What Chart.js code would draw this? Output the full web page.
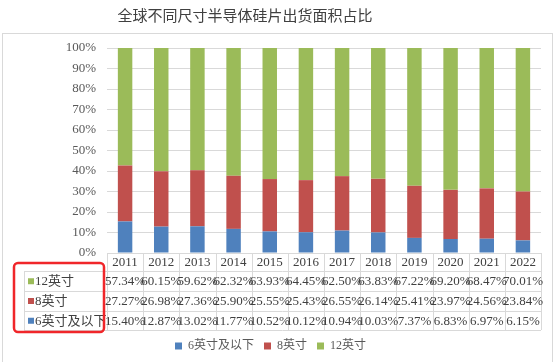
<!DOCTYPE html>
<html>
<head>
<meta charset="utf-8">
<script src="https://cdn.jsdelivr.net/npm/chart.js@4/dist/chart.umd.min.js"></script>
<style>
  html, body { margin: 0; padding: 0; background: #fff; }
  #wrap { width: 558px; height: 362px; }
</style>
</head>
<body>
<div id="wrap"><canvas id="chart" width="558" height="362"></canvas></div>
<script>
// Data
const years = ['2011', '2012', '2013', '2014', '2015', '2016', '2017', '2018', '2019', '2020', '2021', '2022'];
const small = [15.40, 12.87, 13.02, 11.77, 10.52, 10.12, 10.94, 10.03, 7.37, 6.83, 6.97, 6.15];
const eight = [27.27, 26.98, 27.36, 25.90, 25.55, 25.43, 26.55, 26.14, 25.41, 23.97, 24.56, 23.84];
const twelve = [57.34, 60.15, 59.62, 62.32, 63.93, 64.45, 62.50, 63.83, 67.22, 69.20, 68.47, 70.01];
const seriesNames = ['6英寸及以下', '8英寸', '12英寸'];
const chartTitle = '全球不同尺寸半导体硅片出货面积占比';

const colors = ['#4F81BD', '#C0504D', '#9BBB59'];
const serif = '"Liberation Serif", "Times New Roman", "Noto Sans CJK SC", serif';
const PLOT_BOTTOM = 253;

// Draws title, data table, red highlight box and outer frame
const tablePlugin = {
  id: 'dataTable',
  afterDraw(chart) {
    const ctx = chart.ctx;
    const x = chart.scales.x;
    const area = chart.chartArea;
    const colW = (area.right - area.left) / years.length;
    const rows = [271, 290.5, 310.5, 330];
    const labelLeft = 24;

    ctx.save();

    // outer frame
    ctx.strokeStyle = '#d9d9d9';
    ctx.lineWidth = 1;
    ctx.strokeRect(2.5, 33.5, 550, 340);

    // title
    ctx.fillStyle = '#404040';
    ctx.font = '15px "Noto Sans CJK SC", sans-serif';
    ctx.textAlign = 'center';
    ctx.textBaseline = 'middle';
    ctx.fillText(chartTitle, 245, 15);

    // grid of the table
    ctx.strokeStyle = '#d9d9d9';
    ctx.beginPath();
    ctx.moveTo(area.left, Math.round(area.bottom) + 0.5);
    ctx.lineTo(area.right, Math.round(area.bottom) + 0.5);
    rows.forEach(r => {
      ctx.moveTo(labelLeft, Math.round(r) + 0.5);
      ctx.lineTo(area.right, Math.round(r) + 0.5);
    });
    for (let i = 0; i <= years.length; i++) {
      const cx = Math.round(area.left + i * colW) + 0.5;
      ctx.moveTo(cx, area.bottom);
      ctx.lineTo(cx, rows[3]);
    }
    ctx.moveTo(labelLeft + 0.5, rows[0]);
    ctx.lineTo(labelLeft + 0.5, rows[3]);
    ctx.stroke();

    // rows: 12英寸, 8英寸, 6英寸及以下
    const tableRows = [
      { name: seriesNames[2], color: colors[2], vals: twelve },
      { name: seriesNames[1], color: colors[1], vals: eight },
      { name: seriesNames[0], color: colors[0], vals: small }
    ];
    ctx.font = '13px ' + serif;
    tableRows.forEach((row, r) => {
      const cy = (rows[r] + rows[r + 1]) / 2 + 1;
      ctx.fillStyle = row.color;
      ctx.fillRect(28, cy - 3.5, 6, 6);
      ctx.fillStyle = '#404040';
      ctx.textAlign = 'left';
      ctx.fillText(row.name, 35, cy);
      ctx.textAlign = 'center';
      row.vals.forEach((v, i) => {
        ctx.fillText(v.toFixed(2) + '%', x.getPixelForValue(i), cy);
      });
    });

    // red highlight box
    ctx.strokeStyle = '#F0262A';
    ctx.lineWidth = 2.5;
    ctx.beginPath();
    ctx.roundRect(14, 263, 90, 69, 4);
    ctx.stroke();

    ctx.restore();
  }
};

new Chart(document.getElementById('chart'), {
  type: 'bar',
  data: {
    labels: years,
    datasets: [
      { label: seriesNames[0], data: small, backgroundColor: colors[0] },
      { label: seriesNames[1], data: eight, backgroundColor: colors[1] },
      { label: seriesNames[2], data: twelve, backgroundColor: colors[2] }
    ]
  },
  options: {
    responsive: false,
    animation: false,
    layout: { padding: { top: 48, left: 0, right: 17, bottom: 0 } },
    datasets: { bar: { barPercentage: 0.4, categoryPercentage: 1 } },
    plugins: {
      title: { display: false },
      tooltip: { enabled: false },
      legend: {
        position: 'bottom',
        labels: {
          boxWidth: 7,
          boxHeight: 7,
          padding: 10,
          color: '#595959',
          font: { family: serif, size: 12 }
        }
      }
    },
    scales: {
      x: {
        stacked: true,
        grid: { display: false, drawTicks: false },
        border: { display: false },
        ticks: { color: '#404040', padding: 2, font: { family: serif, size: 13 } },
        afterFit(s) {
          const lg = s.chart.legend ? s.chart.legend.height : 34;
          s.height = 362 - PLOT_BOTTOM - lg;
        }
      },
      y: {
        stacked: true,
        min: 0,
        max: 100,
        ticks: {
          stepSize: 10,
          padding: 11,
          color: '#595959',
          font: { family: serif, size: 13 },
          callback: v => v + '%'
        },
        grid: { color: '#d9d9d9', drawTicks: false },
        border: { display: false },
        afterFit(s) { s.width = 107; }
      }
    }
  },
  plugins: [tablePlugin]
});
</script>
</body>
</html>
